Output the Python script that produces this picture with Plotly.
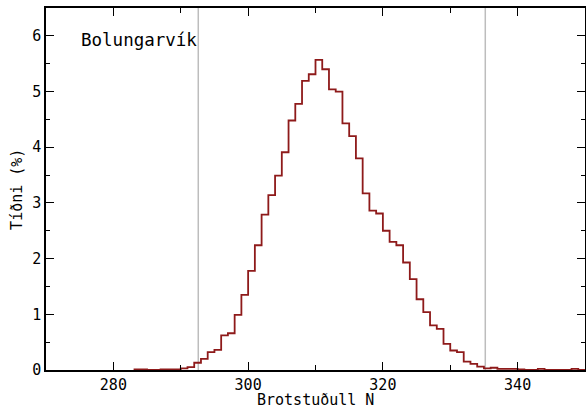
import plotly.graph_objects as go

# Histogram data (bin start values, width 1) and percentages
bin_start = list(range(283, 350))
percent = [
    0.01, 0.01, 0.0, 0.0, 0.01, 0.01, 0.01, 0.03, 0.05, 0.13,   # 283-292
    0.20, 0.32, 0.36, 0.62, 0.66, 0.99, 1.35, 1.78, 2.24, 2.79,  # 293-302
    3.14, 3.49, 3.91, 4.48, 4.78, 5.19, 5.31, 5.57, 5.40, 5.04,  # 303-312
    5.00, 4.43, 4.20, 3.80, 3.17, 2.86, 2.81, 2.50, 2.30, 2.24,  # 313-322
    1.93, 1.63, 1.27, 1.04, 0.80, 0.74, 0.47, 0.35, 0.32, 0.15,  # 323-332
    0.11, 0.06, 0.03, 0.04, 0.02, 0.02, 0.02, 0.01, 0.0, 0.0,    # 333-342
    0.02, 0.0, 0.0, 0.0, 0.0, 0.02, 0.0,                         # 343-349
]
bin_width = 1
limits = [292.6, 335.2]
x_ticks = [280, 300, 320, 340]
y_ticks = [0, 1, 2, 3, 4, 5, 6]
station = "Bolungarvík"
x_title = "Brotstuðull N"
y_title = "Tíðni (%)"

edges = bin_start + [bin_start[-1] + bin_width]
step_y = percent + [0.0]

FONT = "DejaVu Sans Mono"

fig = go.Figure()
fig.add_trace(go.Scatter(
    x=edges, y=step_y, mode="lines", line_shape="hv",
    line=dict(color="#8e1a1a", width=1.8), showlegend=False, hoverinfo="skip",
))

for v in limits:
    fig.add_shape(type="line", x0=v, x1=v, y0=0, y1=1, xref="x", yref="paper",
                  line=dict(color="#bdbdbd", width=1.5), layer="below")

axis_common = dict(
    showline=True, linecolor="black", linewidth=1.6, mirror="ticks",
    ticks="inside", ticklen=8, tickwidth=1.4, tickcolor="black",
    showgrid=False, zeroline=False, automargin=False,
    tickfont=dict(family=FONT, size=15, color="black"),
)

fig.update_xaxes(range=[270, 350], tickvals=x_ticks,
                 minor=dict(ticks="inside", ticklen=5, tickwidth=1.4, tickcolor="black", dtick=10, tick0=270, showgrid=False),
                 **axis_common)
fig.update_yaxes(range=[0, 6.5], tickvals=y_ticks,
                 minor=dict(ticks="inside", ticklen=4, tickwidth=1.4, tickcolor="black", dtick=0.5, tick0=0, showgrid=False),
                 **axis_common)

fig.add_annotation(text=station, xref="paper", yref="paper", x=0.062, y=0.912,
                   xanchor="left", yanchor="middle", showarrow=False,
                   font=dict(family=FONT, size=17.5, color="black"))
fig.add_annotation(text=x_title, xref="paper", yref="paper", x=0.5, y=-0.083,
                   xanchor="center", yanchor="middle", showarrow=False,
                   font=dict(family=FONT, size=15, color="black"))
fig.add_annotation(text=y_title, xref="paper", yref="paper", x=-0.054, y=0.5,
                   xanchor="center", yanchor="middle", showarrow=False, textangle=-90,
                   font=dict(family=FONT, size=15, color="black"))

fig.update_layout(
    width=586, height=408,
    margin=dict(l=46, r=1, t=8, b=38, autoexpand=False),
    paper_bgcolor="white", plot_bgcolor="white",
)

fig.write_html(
    "out.html",
    config={"displayModeBar": False},
    post_script="document.body.style.margin='0px';document.body.style.overflow='hidden';",
)
